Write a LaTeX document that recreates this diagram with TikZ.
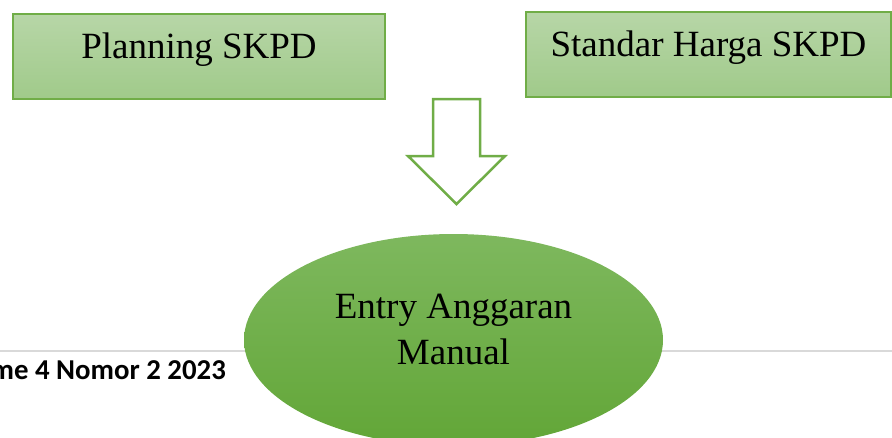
\documentclass[tikz,border=0pt]{standalone}
\usepackage{fontspec}
\setmainfont{Liberation Serif}
\newfontfamily\footfont{Carlito}
\usepackage{tikz}
\usetikzlibrary{positioning,calc,shapes.geometric}
\usepackage{xcolor}
\definecolor{boxtop}{RGB}{183,214,167}
\definecolor{boxbottom}{RGB}{160,202,138}
\definecolor{leafgreen}{RGB}{112,173,71}
\definecolor{ovaltop}{RGB}{126,184,94}
\definecolor{ovalbottom}{RGB}{98,166,55}
\definecolor{rulegray}{RGB}{217,217,217}

\tikzset{
  skpdbox/.style={rectangle,draw=leafgreen,line width=1.2pt,
    top color=boxtop,bottom color=boxbottom,
    font=\fontsize{37}{46}\selectfont,inner sep=0pt,
    text height=25pt,text depth=21pt},
  entryoval/.style={ellipse,draw=none,top color=ovaltop,bottom color=ovalbottom,
    minimum width=419pt,minimum height=212pt,inner sep=0pt},
  blockarrow/.style={draw=leafgreen,line width=2.5pt,fill=white,line join=miter}
}

\begin{document}
\begin{tikzpicture}[x=1pt,y=-1pt]
\useasboundingbox (0,0) rectangle (892,437);
\clip (0,0) rectangle (892,437);

% page rule and running footer
\draw[rulegray,line width=1.5pt] (0,351) -- (892,351);
\node[anchor=base west,inner sep=0pt,font=\footfont\bfseries\fontsize{28.8}{34}\selectfont]
  (footer) at (-9.5,379) {me 4 Nomor 2 2023};

% input boxes
\node[skpdbox,minimum width=372pt,minimum height=85pt] (planning) at (199,56.5) {Planning SKPD};
\node[skpdbox,minimum width=365pt,minimum height=85pt] (harga) at (708.5,54.5) {Standar Harga SKPD};

% hollow down arrow
\coordinate (flowtop) at (456.5,99);
\draw[blockarrow] (flowtop) ++(-23.5,0) -- ++(0,57) -- ++(-25,0) -- ++(48.5,48)
  -- ++(48.5,-48) -- ++(-25,0) -- ++(0,-57) -- cycle;

% result
\node[entryoval] (entry) at (453.5,340) {};
\node[anchor=north,inner sep=0pt,align=center,font=\fontsize{37}{46}\selectfont]
  (entrytext) at (453.5,293.5) {Entry Anggaran\\Manual};
\end{tikzpicture}
\end{document}
